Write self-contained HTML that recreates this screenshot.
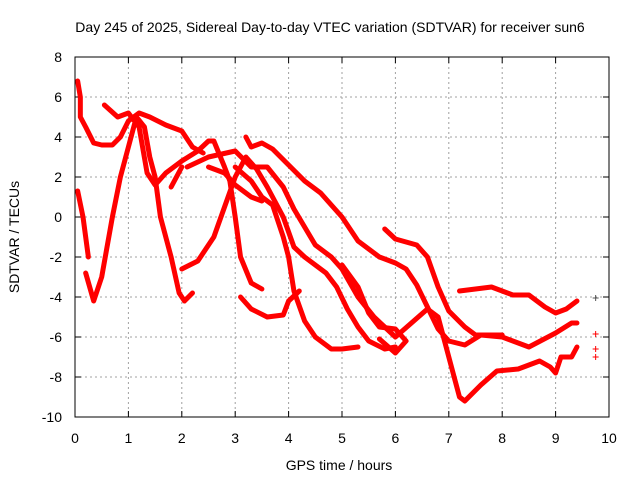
<!DOCTYPE html>
<html><head><meta charset="utf-8"><style>
body{margin:0;background:#fff}
svg{display:block;font-family:"Liberation Sans",sans-serif;font-size:14px}
</style></head><body>
<svg id="chart" width="640" height="480">
<text x="330" y="32" text-anchor="middle">Day 245 of 2025, Sidereal Day-to-day VTEC variation (SDTVAR) for receiver sun6</text>
<text x="339" y="470" text-anchor="middle">GPS time / hours</text>
<text transform="translate(19,237) rotate(-90)" text-anchor="middle">SDTVAR / TECUs</text>
<g id="grid"></g><g id="ticks"></g><g id="marks"></g>
<rect x="75" y="57" width="534" height="360" fill="none" stroke="#000" stroke-width="1"/>
</svg>
<script>
const xTicks=[0,1,2,3,4,5,6,7,8,9,10];
const yTicks=[8,6,4,2,0,-2,-4,-6,-8,-10];
const track1=[[0.05,6.8],[0.1,6],[0.1,5],[0.2,4.5],[0.35,3.7],[0.5,3.6],[0.7,3.6],[0.85,4],[1.0,4.8],[1.2,5.2],[1.4,5.0],[1.7,4.6],[2.0,4.3],[2.2,3.5],[2.4,3.2]];
const track2=[[0.05,1.3],[0.15,0],[0.25,-2]];
const track3=[[0.2,-2.8],[0.35,-4.2],[0.5,-3],[0.7,0],[0.85,2],[1.0,3.5],[1.15,5],[1.3,4.5],[1.4,3],[1.5,2],[1.6,0],[1.8,-2],[1.95,-3.8],[2.05,-4.2],[2.2,-3.8]];
const track4=[[0.55,5.6],[0.8,5],[1.0,5.2],[1.2,4.5],[1.35,2.2],[1.5,1.6],[1.7,2.2],[2.0,2.8],[2.3,3.3],[2.5,3.8],[2.6,3.8],[2.8,2.5],[2.9,1.8],[3.0,0],[3.1,-2],[3.3,-3.3],[3.5,-3.6]];
const track5=[[2.0,-2.6],[2.3,-2.2],[2.6,-1],[2.8,0.5],[3.0,2],[3.2,3],[3.4,2.4],[3.6,1.5],[3.9,0],[4.1,-1.5],[4.3,-2],[4.5,-2.4],[4.7,-2.8],[4.9,-3.5],[5.1,-4.6],[5.3,-5.5],[5.5,-6.2],[5.8,-6.6],[6.0,-6.5]];
const track6=[[3.2,4],[3.3,3.5],[3.5,3.7],[3.7,3.4],[4.0,2.6],[4.3,1.8],[4.6,1.2],[5.0,0],[5.3,-1.2],[5.7,-2],[6.0,-2.3],[6.2,-2.6],[6.4,-3.4],[6.6,-4.5],[6.8,-5.6],[7.0,-6.2],[7.3,-6.4],[7.6,-5.9],[8.0,-6],[8.5,-6.5],[9.0,-5.8],[9.3,-5.3],[9.4,-5.3]];
const track7=[[5.8,-0.6],[6.0,-1.1],[6.4,-1.4],[6.6,-2],[6.8,-3.5],[7.0,-4.7],[7.3,-5.5],[7.5,-5.9],[8.0,-5.9]];
const track8=[[7.2,-3.7],[7.5,-3.6],[7.8,-3.5],[8.2,-3.9],[8.5,-3.9],[8.8,-4.5],[9.0,-4.8],[9.2,-4.6],[9.4,-4.2]];
const track9=[[6.6,-4.6],[6.8,-5],[7.0,-7],[7.2,-9],[7.3,-9.2],[7.6,-8.4],[7.9,-7.7],[8.3,-7.6],[8.7,-7.2],[8.9,-7.5],[9.0,-7.8],[9.1,-7],[9.3,-7],[9.4,-6.5]];
const track10=[[2.1,2.5],[2.5,3],[3.0,3.3],[3.3,2.5],[3.6,2.5],[3.9,1.5],[4.1,0.4],[4.3,-0.5],[4.5,-1.4],[4.8,-2.0],[5.0,-2.6],[5.3,-4],[5.6,-5],[5.8,-5.5],[6.0,-6.0],[6.3,-5.3],[6.6,-4.6]];
const track11=[[3.0,2.5],[3.3,1.8],[3.5,1],[3.7,0.6],[3.9,-1],[4.0,-2],[4.1,-3.7],[4.3,-5.2],[4.5,-6],[4.8,-6.6],[5.0,-6.6],[5.3,-6.5]];
const track12=[[3.1,-4],[3.3,-4.6],[3.6,-5],[3.9,-4.9],[4.0,-4.2],[4.2,-3.7]];
const track13=[[5.0,-2.4],[5.3,-3.5],[5.5,-4.8],[5.7,-5.5],[6.0,-5.6],[6.2,-6.2],[6.0,-6.8],[5.7,-6.1]];
const track14=[[2.5,2.5],[2.8,2.2],[3.0,1.6],[3.3,1.0],[3.5,0.8]];
const track15=[[1.8,1.5],[2.0,2.5]];
const isolated=[[9.75,-4.05],[9.75,-5.85],[9.75,-6.6],[9.75,-7.0]];
const tracks=[track1,track2,track3,track4,track5,track6,track7,track8,track9,track10,track11,track12,track13,track14,track15];
const X=v=>75+v*53.4, Y=v=>57+(8-v)*20;
const NS='http://www.w3.org/2000/svg';
function mk(tag,at,parent){const e=document.createElementNS(NS,tag);for(const k in at)e.setAttribute(k,at[k]);document.getElementById(parent).appendChild(e);return e;}
xTicks.forEach(t=>{
 if(t>0&&t<10){const g=mk('line',{x1:X(t),x2:X(t),y1:57,y2:417,stroke:'#a0a0a0','stroke-dasharray':'2,3'},'grid');
 
 }
 const l=mk('text',{x:X(t),y:443,'text-anchor':'middle'},'ticks');l.textContent=t;
 
 
 mk('line',{x1:X(t),x2:X(t),y1:417,y2:411,stroke:'#000'},'ticks');
 mk('line',{x1:X(t),x2:X(t),y1:57,y2:63,stroke:'#000'},'ticks');
});
yTicks.forEach(t=>{
 if(t<8&&t>-10){const g=mk('line',{x1:75,x2:609,y1:Y(t),y2:Y(t),stroke:'#a0a0a0','stroke-dasharray':'2,3'},'grid');
 
 }
 const l=mk('text',{x:62,y:Y(t)+5,'text-anchor':'end'},'ticks');l.textContent=t;
 
 
 mk('line',{x1:75,x2:81,y1:Y(t),y2:Y(t),stroke:'#000'},'ticks');
 mk('line',{x1:609,x2:603,y1:Y(t),y2:Y(t),stroke:'#000'},'ticks');
});
tracks.forEach(tr=>{
 const p=mk('polyline',{points:tr.map(d=>X(d[0])+','+Y(d[1])).join(' '),fill:'none',stroke:'#f00','stroke-width':5,'stroke-linejoin':'round','stroke-linecap':'round'},'marks');
 
 
});
isolated.forEach(d=>{
 const p=mk('path',{d:`M${X(d[0])-3},${Y(d[1])}h6M${X(d[0])},${Y(d[1])-3}v6`,stroke:d[1]>-5?'#555':'#f00','stroke-width':1},'marks');
 
 
});
</script>
</body></html>
